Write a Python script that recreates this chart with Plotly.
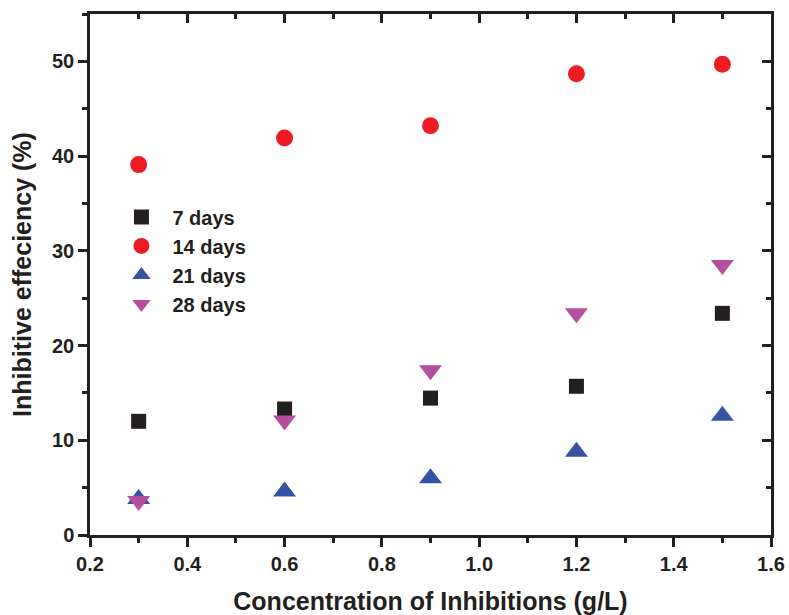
import plotly.graph_objects as go

conc = [0.3, 0.6, 0.9, 1.2, 1.5]
days7 = [12.0, 13.3, 14.45, 15.7, 23.4]
days14 = [39.1, 41.9, 43.2, 48.7, 49.7]
days21 = [3.8, 4.6, 6.0, 8.8, 12.6]
days28 = [3.6, 12.1, 17.4, 23.4, 28.5]
xtick_vals = [0.2, 0.4, 0.6, 0.8, 1.0, 1.2, 1.4, 1.6]
xtick_text = ["0.2", "0.4", "0.6", "0.8", "1.0", "1.2", "1.4", "1.6"]
ytick_vals = [0, 10, 20, 30, 40, 50]

series = [
    ("7 days", days7, "square", "#231f20", 15),
    ("14 days", days14, "circle", "#ed1c24", 17),
    ("21 days", days21, "triangle-up", "#3953a4", 20),
    ("28 days", days28, "triangle-down", "#b4509f", 20),
]

fig = go.Figure()
for name, vals, sym, col, sz in series:
    fig.add_trace(go.Scatter(x=conc, y=vals, mode="markers", name=name,
                             marker=dict(symbol=sym, color=col, size=sz, line=dict(width=0))))

fig.add_trace(go.Scatter(x=[None], y=[None], xaxis="x2", yaxis="y2", showlegend=False))

FAM = "Liberation Sans, Arial"
axfont = dict(family=FAM, size=20, color="#231f20", weight="bold")
common = dict(showgrid=False, zeroline=False, showline=True, linecolor="#231f20", linewidth=2.5,
              tickwidth=2.5, tickcolor="#231f20", ticklen=9, automargin=False)

fig.update_layout(
    width=789, height=615,
    margin=dict(l=90, r=18, t=14, b=80),
    plot_bgcolor="white", paper_bgcolor="white",
    font=dict(family=FAM, color="#231f20"),
    xaxis=dict(range=[0.2, 1.6], tickvals=xtick_vals, ticktext=xtick_text,
               ticks="outside", tickfont=axfont,
               minor=dict(dtick=0.1, tick0=0.2, ticks="outside", ticklen=5, tickwidth=2.5, tickcolor="#231f20"),
               title=dict(text="Concentration of Inhibitions (g/L)",
                          font=dict(size=25, weight="bold", family=FAM), standoff=19),
               **common),
    yaxis=dict(range=[0, 55], tickvals=ytick_vals, ticks="outside", tickfont=axfont,
               minor=dict(dtick=5, tick0=0, ticks="outside", ticklen=5, tickwidth=2.5, tickcolor="#231f20"),
               title=dict(text="Inhibitive effeciency (%)",
                          font=dict(size=25, weight="bold", family=FAM), standoff=14),
               **common),
    xaxis2=dict(overlaying="x", side="top", range=[0.2, 1.6], dtick=0.2, tick0=0.2, ticks="inside",
                showticklabels=False,
                minor=dict(dtick=0.1, tick0=0.2, ticks="inside", ticklen=5, tickwidth=2.5, tickcolor="#231f20"),
                **common),
    yaxis2=dict(overlaying="y", side="right", range=[0, 55], dtick=10, ticks="inside",
                showticklabels=False,
                minor=dict(dtick=5, tick0=0, ticks="inside", ticklen=5, tickwidth=2.5, tickcolor="#231f20"),
                **common),
    legend=dict(x=0.03, y=0.648, xanchor="left", yanchor="top", bgcolor="rgba(0,0,0,0)",
                font=dict(size=20, family=FAM, color="#231f20", weight="bold"),
                itemsizing="trace", itemwidth=52, tracegroupgap=0),
)

fig.write_html("out.html", config={"displayModeBar": False},
               post_script="document.body.style.margin='0';document.body.style.padding='0';")
